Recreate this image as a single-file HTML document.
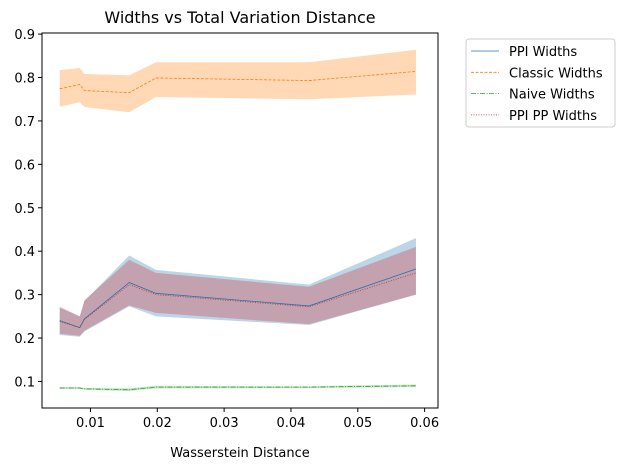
<!DOCTYPE html>
<html><head><meta charset="utf-8"><style>
body{margin:0;background:#fff;}
svg text{font-family:"DejaVu Sans","Liberation Sans",sans-serif;fill:#000;}
</style></head><body>
<svg id="chart" width="625" height="470" xmlns="http://www.w3.org/2000/svg"></svg>
<script>
const xs = [0.0054, 0.0084, 0.0091, 0.0158, 0.0198, 0.0427, 0.0587];
const ppiMean = [0.240, 0.224, 0.244, 0.328, 0.303, 0.274, 0.359];
const ppiUpper = [0.270, 0.250, 0.285, 0.390, 0.357, 0.323, 0.430];
const ppiLower = [0.207, 0.203, 0.215, 0.273, 0.250, 0.230, 0.300];
const ppMean = [0.238, 0.224, 0.243, 0.323, 0.300, 0.272, 0.350];
const ppUpper = [0.272, 0.250, 0.287, 0.380, 0.350, 0.318, 0.410];
const ppLower = [0.210, 0.205, 0.217, 0.275, 0.258, 0.232, 0.300];
const classicMean = [0.774, 0.784, 0.770, 0.765, 0.799, 0.793, 0.814];
const classicUpper = [0.817, 0.822, 0.808, 0.805, 0.835, 0.835, 0.864];
const classicLower = [0.733, 0.743, 0.732, 0.720, 0.755, 0.750, 0.761];
const naiveMean = [0.085, 0.085, 0.083, 0.081, 0.087, 0.087, 0.090];
const naiveUpper = [0.087, 0.087, 0.085, 0.084, 0.090, 0.089, 0.093];
const naiveLower = [0.083, 0.083, 0.081, 0.078, 0.084, 0.085, 0.087];
const xTicks = [0.01, 0.02, 0.03, 0.04, 0.05, 0.06];
const xTickLabels = ["0.01","0.02","0.03","0.04","0.05","0.06"];
const yTicks = [0.1,0.2,0.3,0.4,0.5,0.6,0.7,0.8,0.9];
const yTickLabels = ["0.1","0.2","0.3","0.4","0.5","0.6","0.7","0.8","0.9"];
const legendLabels = ["PPI Widths","Classic Widths","Naive Widths","PPI PP Widths"];

const L=42,R=438,T=33,B=408;
const X0=0.00275,X1=0.0620,Y0=0.0389,Y1=0.9025;
const sx=v=>L+(v-X0)/(X1-X0)*(R-L);
const sy=v=>B-(v-Y0)/(Y1-Y0)*(B-T);
const svg=document.getElementById('chart');
const NS='http://www.w3.org/2000/svg';
function mk(tag,attrs,parent){const e=document.createElementNS(NS,tag);for(const k in attrs)e.setAttribute(k,attrs[k]);(parent||svg).appendChild(e);return e;}

function band(up,lo,color,name){
  let d='M'+xs.map((x,i)=>sx(x)+','+sy(up[i])).join('L');
  for(let i=xs.length-1;i>=0;i--) d+='L'+sx(xs[i])+','+sy(lo[i]);
  const p=mk('path',{d:d+'Z',fill:color,'fill-opacity':0.3,stroke:'none'});
  
  
}
function line(vals,color,dash,name){
  const p=mk('polyline',{points:xs.map((x,i)=>sx(x)+','+sy(vals[i])).join(' '),fill:'none',stroke:color,'stroke-width':0.8,'stroke-dasharray':dash});
  
  
}
band(ppiUpper,ppiLower,'#1f77b4','ppi-band');
band(classicUpper,classicLower,'#ff7f0e','classic-band');
band(naiveUpper,naiveLower,'#2ca02c','naive-band');
band(ppUpper,ppLower,'#d62728','ppi-pp-band');
line(ppiMean,'#1f77b4','none','ppi-line');
line(classicMean,'#ff7f0e','3,1.5','classic-line');
line(naiveMean,'#2ca02c','5,1.5,1,1.5','naive-line');
line(ppMean,'#d62728','1,1.5','ppi-pp-line');

const frame=mk('rect',{x:L,y:T,width:R-L,height:B-T,fill:'none',stroke:'#000','stroke-width':1});



xTicks.forEach((v,i)=>{
  const x=sx(v);
  mk('line',{x1:x,x2:x,y1:B,y2:B+4,stroke:'#000'});
  const t=mk('text',{x:x,y:B+19,'text-anchor':'middle','font-size':13});
  t.textContent=xTickLabels[i];
  
  
});
yTicks.forEach((v,i)=>{
  const y=sy(v);
  mk('line',{x1:L-4,x2:L,y1:y,y2:y,stroke:'#000'});
  const t=mk('text',{x:L-7,y:y+5,'text-anchor':'end','font-size':13});
  t.textContent=yTickLabels[i];
  
  
});
const title=mk('text',{x:(L+R)/2,y:23,'text-anchor':'middle','font-size':16});
title.textContent='Widths vs Total Variation Distance';


const xl=mk('text',{x:(L+R)/2,y:457,'text-anchor':'middle','font-size':13});
xl.textContent='Wasserstein Distance';



const lg=mk('g',{});


mk('rect',{x:466,y:39,width:149,height:88,rx:3,fill:'#fff',stroke:'#ccc'},lg);
const lc=['#1f77b4','#ff7f0e','#2ca02c','#d62728'];
const ld=['none','3,1.5','5,1.5,1,1.5','1,1.5'];
legendLabels.forEach((s,i)=>{
  const y=51+i*21.3;
  const e=mk('g',{},lg);
  
  
  mk('line',{x1:471,x2:499,y1:y,y2:y,stroke:lc[i],'stroke-width':0.8,'stroke-dasharray':ld[i]},e);
  const t=mk('text',{x:509,y:y+5,'font-size':13},e);
  t.textContent=s;
});
</script>
</body></html>
